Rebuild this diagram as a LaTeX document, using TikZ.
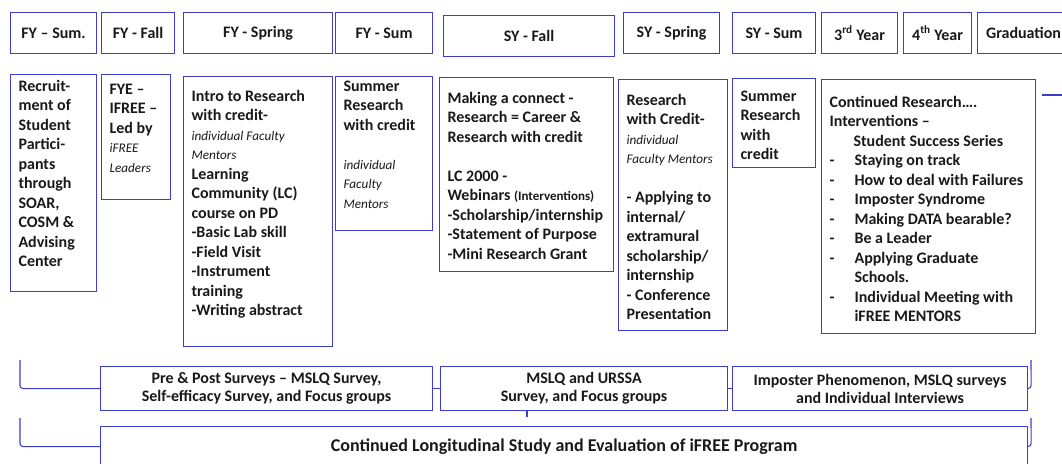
\documentclass[tikz,border=0pt]{standalone}
\usepackage{fontspec}
\setmainfont{Carlito}
\definecolor{iblue}{RGB}{62,62,205}
\newcommand\cellbox[7]{% name, x, y, width, height, top pad, text
  \node[cell,minimum width=#4,minimum height=#5] (#1) at (#2,#3)
    {\parbox[c][\dimexpr#5pt-2pt\relax][t]{\dimexpr#4pt-16pt\relax}{\vspace*{#6pt}\strut#7}};}
\newcommand\itm[1]{\makebox[25pt][l]{-}#1}
\newcommand\ital[1]{{\fontsize{13.2}{19.5}\selectfont\mdseries\itshape #1}}
\begin{document}
\begin{tikzpicture}[x=1pt,y=-1pt]
\tikzset{
  cell/.style={draw=iblue,line width=1.1pt,anchor=north west,inner xsep=8pt,inner ysep=0pt,
    font=\fontsize{16}{19.5}\selectfont\bfseries,text=black!90},
  head/.style={cell,inner xsep=0pt,align=center,minimum height=41},
  survey/.style={cell,inner xsep=0pt,align=center,minimum height=44,
    font=\fontsize{16}{18}\selectfont\bfseries},
  link/.style={draw=iblue,line width=1.1pt,rounded corners=3pt},
}
\useasboundingbox (0,0) rectangle (1062,463);

% time line
\node[head,minimum width=86] (hFYsum) at (10,12) {FY -- Sum.};
\node[head,minimum width=73] (hFYfall) at (101,12) {FY - Fall};
\node[head,minimum width=149] (hFYspring) at (183,12) {FY - Spring};
\node[head,minimum width=97] (hFYsumm) at (335,12) {FY - Sum};
\node[head,minimum width=171] (hSYfall) at (443,15) {SY - Fall};
\node[head,minimum width=96] (hSYspring) at (623,12) {SY - Spring};
\node[head,minimum width=83] (hSYsum) at (732,12) {SY - Sum};
\node[head,minimum width=76] (hThird) at (821,12) {3\textsuperscript{rd} Year};
\node[head,minimum width=68] (hFourth) at (903,12) {4\textsuperscript{th} Year};
\node[head,minimum width=92] (hGrad) at (977,12) {Graduation};

% activities
\cellbox{recruit}{10}{74}{86}{217}{2}{Recruit-\\ment of\\Student\\Partici-\\pants\\through\\SOAR,\\COSM \&\\Advising\\Center}
\cellbox{fye}{101}{74}{69}{125}{5}{FYE --\\IFREE --\\Led by\\\ital{iFREE}\\\ital{Leaders}}
\cellbox{intro}{183}{76}{149}{270}{10}{Intro to Research\\with credit-\\\ital{individual Faculty}\\\ital{Mentors}\\Learning\\Community (LC)\\course on PD\\-Basic Lab skill\\-Field Visit\\-Instrument\\training\\-Writing abstract}
\cellbox{sumFY}{335}{76}{97}{154}{0}{Summer\\Research\\with credit\\[19.5pt]\ital{individual}\\\ital{Faculty}\\\ital{Mentors}}
\cellbox{connect}{439}{77}{174}{194}{11}{Making a connect -\\Research = Career \&\\Research with credit\\[19.5pt]LC 2000 -\\Webinars {\fontsize{13}{19.5}\selectfont(Interventions)}\\-Scholarship/internship\\-Statement of Purpose\\-Mini Research Grant}
\cellbox{credit}{618}{79}{109}{251}{11}{Research\\with Credit-\\\ital{individual}\\\ital{Faculty Mentors}\\[19.5pt]- Applying to\\internal/\\extramural\\scholarship/\\internship\\- Conference\\Presentation}
\cellbox{sumSY}{732}{78}{83}{89}{8}{Summer\\Research\\with\\credit}
\cellbox{cont}{821}{79}{214}{254}{13}{Continued Research\dots.\\Interventions --\\\hspace*{24pt}Student Success Series\\\itm{Staying on track}\\\itm{How to deal with Failures}\\\itm{Imposter Syndrome}\\\itm{Making DATA bearable?}\\\itm{Be a Leader}\\\itm{Applying Graduate}\\\hspace*{25pt}Schools.\\\itm{Individual Meeting with}\\\hspace*{25pt}iFREE MENTORS}

\coordinate (nextA) at (1042,95);
\coordinate (nextB) at (1062,95);
\draw[link] (nextA) -- (nextB);

% evaluation
\node[survey,minimum width=332] (prepost) at (100,366) {Pre \& Post Surveys -- MSLQ Survey,\\Self-efficacy Survey, and Focus groups};
\node[survey,minimum width=287] (mslq) at (440,366) {MSLQ and URSSA\\Survey, and Focus groups};
\node[survey,minimum width=295] (impost) at (732,366) {Imposter Phenomenon, MSLQ surveys\\and Individual Interviews};
\node[cell,inner xsep=0pt,minimum width=927,minimum height=40,
  font=\fontsize{18}{20}\selectfont\bfseries] (longit) at (100,426) {Continued Longitudinal Study and Evaluation of iFREE Program};

\coordinate (brA) at (20,360);
\coordinate (brB) at (1031,360);
\coordinate (brC) at (20,418);
\coordinate (brD) at (1031,418);
\draw[link] (brA) -- (brA |- prepost.west) -- (prepost.west);
\draw[link] (impost.east) -- ++(3,0) -- (brB);
\draw[link] (prepost.east) -- (mslq.west);
\draw[link] (mslq.east) -- (impost.west);
\draw[link] (mslq.south -| 527,0) -- ++(0,6);
\draw[link] (brC) -- (brC |- longit.west) -- (longit.west);
\draw[link] (longit.east) -- ++(3,0) -- (brD);
\end{tikzpicture}
\end{document}
